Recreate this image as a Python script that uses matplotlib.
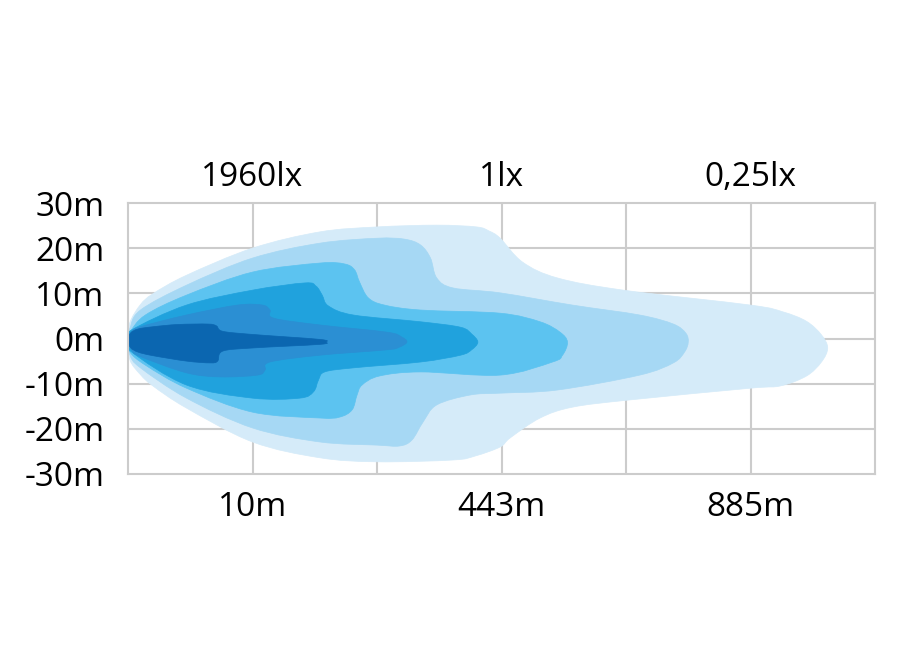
import matplotlib
matplotlib.use("Agg")
import matplotlib.pyplot as plt
from matplotlib.path import Path
from matplotlib.patches import PathPatch
import numpy as np

plt.rcParams['font.family'] = ['Open Sans', 'DejaVu Sans']

# axis labels
y_ticks = [30, 20, 10, 0, -10, -20, -30]
y_labels = ['30m', '20m', '10m', '0m', '-10m', '-20m', '-30m']
lux_pos = [1, 3, 5]
lux_labels = ['1960lx', '1lx', '0,25lx']
dist_pos = [1, 3, 5]
dist_labels = ['10m', '443m', '885m']

# beam outlines (x: grid columns, y: metres), outer to inner
beam1_x = [0, 0.016, 0.10, 0.20, 0.47, 1.00, 1.54, 2.00, 2.48, 2.80, 2.90, 2.99, 3.17, 3.45, 3.98, 5.00, 5.26, 5.45, 5.57, 5.62,
           5.57, 5.45, 5.24, 5.00, 4.03, 3.57, 3.31, 3.07, 2.99, 2.79, 2.61, 2.00, 1.54, 1.00, 0.47, 0.20, 0.10, 0.016]
beam1_y = [-0.3, 3.6, 7.5, 9.9, 14.0, 20.0, 23.6, 24.7, 25.1, 24.7, 23.8, 22.2, 16.9, 13.4, 10.7, 7.4, 5.9, 3.8, 0.8, -2.1,
           -5.2, -8.3, -10.5, -11.0, -13.6, -15.2, -17.6, -22.0, -24.0, -26.0, -26.9, -27.3, -26.4, -22.9, -15.4, -10.5, -8.0, -4.8]

beam2_x = [0, 0.016, 0.10, 0.47, 1.00, 1.54, 2.00, 2.22, 2.35, 2.43, 2.48, 2.61, 2.99, 3.57, 4.11, 4.38, 4.48, 4.50,
           4.47, 4.38, 4.11, 3.45, 2.99, 2.75, 2.48, 2.37, 2.28, 2.18, 2.00, 1.54, 1.00, 0.47, 0.10, 0.016]
beam2_y = [-0.3, 2.3, 6.3, 11.8, 17.8, 21.1, 22.2, 22.0, 20.7, 17.8, 13.4, 11.2, 10.1, 7.4, 5.2, 3.2, 1.2, -0.8,
           -3.0, -5.4, -8.1, -11.4, -12.1, -12.5, -14.7, -18.5, -22.5, -23.8, -23.6, -22.9, -19.8, -13.2, -6.5, -3.7]

beam3_x = [0, 0.016, 0.14, 0.47, 1.00, 1.54, 1.74, 1.82, 1.86, 1.93, 2.06, 2.35, 2.99, 3.31, 3.47, 3.53,
           3.49, 3.41, 2.99, 2.35, 2.02, 1.88, 1.84, 1.80, 1.70, 1.54, 1.00, 0.47, 0.14, 0.016]
beam3_y = [-0.3, 1.4, 5.2, 9.6, 14.7, 16.7, 16.5, 15.2, 12.5, 9.0, 7.4, 6.3, 5.6, 3.7, 1.4, -0.8,
           -3.7, -5.2, -8.1, -7.4, -8.3, -10.3, -12.5, -15.8, -17.4, -17.6, -16.3, -11.0, -5.9, -3.0]

beam4_x = [0, 0.03, 0.47, 1.00, 1.42, 1.51, 1.56, 1.61, 1.81, 2.35, 2.67, 2.76, 2.81,
           2.76, 2.67, 2.35, 1.81, 1.58, 1.53, 1.49, 1.38, 1.00, 0.47, 0.03]
beam4_y = [-0.3, 1.9, 7.4, 10.7, 12.3, 11.6, 9.6, 7.2, 5.2, 3.7, 2.5, 1.0, -0.8,
           -2.5, -3.7, -5.2, -6.5, -7.4, -9.2, -11.8, -13.2, -13.2, -10.3, -3.0]

beam5_x = [0, 0.03, 0.10, 0.47, 0.88, 1.08, 1.14, 1.17, 1.54, 2.08, 2.20, 2.24,
           2.18, 2.08, 1.54, 1.14, 1.10, 1.04, 0.74, 0.47, 0.10, 0.03]
beam5_y = [-0.3, 1.5, 2.6, 5.2, 7.4, 7.4, 6.3, 4.5, 3.0, 1.4, 0.3, -0.8,
           -1.9, -2.5, -3.7, -5.2, -7.0, -8.1, -8.5, -7.6, -4.0, -2.6]

beam6_x = [0, 0.02, 0.08, 0.20, 0.40, 0.64, 0.71, 0.76, 1.00, 1.54, 1.59,
           1.54, 1.00, 0.76, 0.72, 0.66, 0.47, 0.20, 0.08, 0.02]
beam6_y = [-0.3, 1.2, 2.1, 2.6, 3.1, 3.2, 2.8, 1.6, 0.9, -0.2, -0.8,
           -1.3, -2.1, -2.8, -5.0, -5.4, -5.0, -3.8, -3.0, -2.0]

beams = [(beam1_x, beam1_y, '#d5ebf9'),
         (beam2_x, beam2_y, '#a6d8f4'),
         (beam3_x, beam3_y, '#5cc3f0'),
         (beam4_x, beam4_y, '#20a2dd'),
         (beam5_x, beam5_y, '#2b8fd3'),
         (beam6_x, beam6_y, '#0b66b0')]


def smooth_outline(xs, ys):
    # closed bezier path through the outline points (catmull-rom handles)
    pts = np.column_stack([xs, ys])
    n = len(pts)
    verts = [pts[0]]
    codes = [Path.MOVETO]
    for i in range(n):
        p0, p1 = pts[i - 1], pts[i]
        p2, p3 = pts[(i + 1) % n], pts[(i + 2) % n]
        verts += [p1 + (p2 - p0) / 6, p2 - (p3 - p1) / 6, p2]
        codes += [Path.CURVE4] * 3
    return Path(verts, codes)


fig = plt.figure(figsize=(9, 6.6), dpi=100)
ax = fig.add_axes([128 / 900, 1 - 474 / 660, 747 / 900, 271 / 660])

grid_color = '#cccccc'
for gx in range(1, 6):
    ax.axvline(gx, color=grid_color, linewidth=1.5, zorder=0)
for gy in [-20, -10, 0, 10, 20]:
    ax.axhline(gy, color=grid_color, linewidth=1.5, zorder=0)

for bx, by, col in beams:
    ax.add_patch(PathPatch(smooth_outline(bx, by), facecolor=col, edgecolor=col,
                           linewidth=0.5, zorder=2))

ax.set_xlim(0, 6)
ax.set_ylim(-30, 30)
for s in ax.spines.values():
    s.set_color(grid_color)
    s.set_linewidth(1.5)

ax.set_xticks([])
ax.set_yticks(y_ticks)
ax.set_yticklabels(y_labels, fontsize=24)
ax.tick_params(axis='y', length=0, pad=17)

for xp, lab in zip(lux_pos, lux_labels):
    ax.text(xp, 1.095, lab, transform=ax.get_xaxis_transform(), ha='center', va='center', fontsize=24)
for xp, lab in zip(dist_pos, dist_labels):
    ax.text(xp, -0.122, lab, transform=ax.get_xaxis_transform(), ha='center', va='center', fontsize=24)

fig.savefig('out.png', dpi=100, facecolor='white')
